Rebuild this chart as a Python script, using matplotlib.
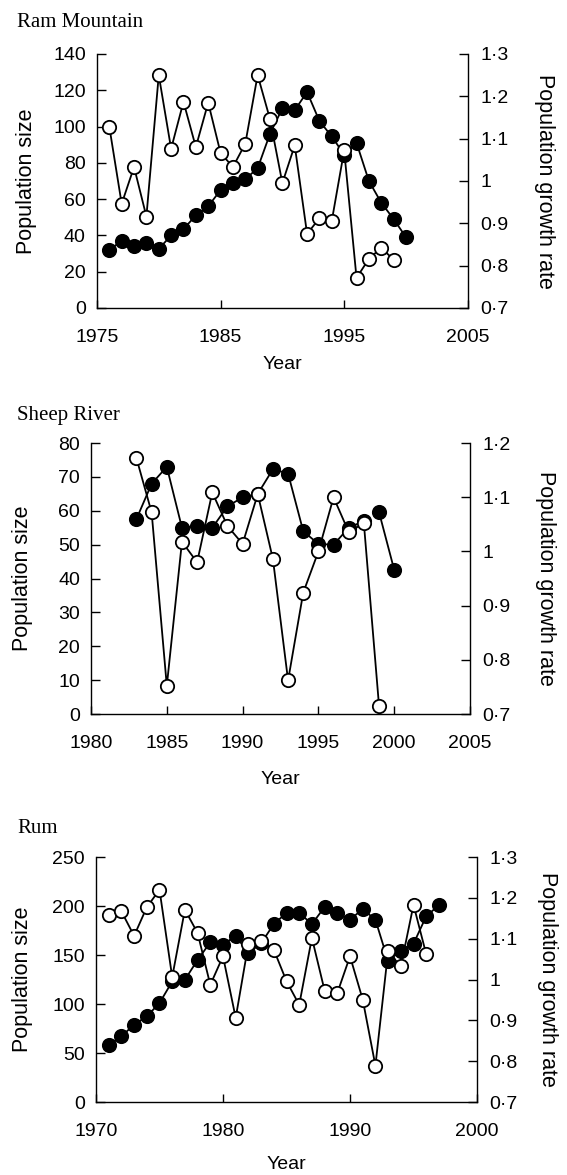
import numpy as np
import matplotlib
matplotlib.use("Agg")
import matplotlib.pyplot as plt
from matplotlib.ticker import FixedLocator, FuncFormatter

# Ram Mountain
ram_years = np.arange(1976, 2001)
ram_size = [32, 37, 34, 36, 32.5, 40, 43.5, 51, 56, 65, 69, 71, 77, 96, 110,
            109, 119, 103, 94.5, 84.5, 91, 70, 58, 49, 39]
ram_rate_years = np.arange(1976, 2000)
ram_rate = [1.128, 0.946, 1.033, 0.916, 1.250, 1.076, 1.187, 1.080, 1.185, 1.066,
            1.033, 1.088, 1.250, 1.146, 0.995, 1.084, 0.875, 0.912, 0.906, 1.072,
            0.771, 0.816, 0.842, 0.814]

# Sheep River (no line between 1998 and 1999 for the size series)
sheep_years = np.arange(1983, 2001)
sheep_size = [57.6, 68, 73, 55, 55.6, 55, 61.3, 64, 65, 72.3, 71, 54, 50.2, 50,
              55, 57, 59.6, 42.6]
sheep_size_break = 1998
sheep_rate_years = np.arange(1983, 2000)
sheep_rate = [1.172, 1.072, 0.752, 1.018, 0.980, 1.109, 1.047, 1.014, 1.106, 0.986,
              0.762, 0.924, 1.000, 1.100, 1.036, 1.052, 0.715]

# Rum
rum_years = np.arange(1971, 1998)
rum_size = [58.5, 67, 79, 87.4, 101, 123, 124.8, 145, 163, 160.5, 169.7, 152, 162,
            181.6, 193, 193, 181.6, 199, 193, 186, 197, 186, 144, 154.4, 161.6,
            189.5, 201]
rum_rate_years = np.arange(1971, 1997)
rum_rate = [1.159, 1.167, 1.107, 1.177, 1.220, 1.006, 1.171, 1.114, 0.987, 1.057,
            0.906, 1.087, 1.094, 1.073, 0.996, 0.938, 1.102, 0.973, 0.967, 1.057,
            0.951, 0.789, 1.069, 1.032, 1.183, 1.062]

plt.rcParams["font.family"] = ["Liberation Sans", "DejaVu Sans"]
plt.rcParams["axes.linewidth"] = 1.0


def rate_fmt(v, pos):
    return ("%g" % round(v, 1)).replace(".", "\u00b7")


def draw_series(ax, x, y, filled, break_after=None):
    x = np.asarray(x)
    y = np.asarray(y, dtype=float)
    if break_after is None:
        parts = [np.ones(len(x), bool)]
    else:
        parts = [x <= break_after, x > break_after]
    for m in parts:
        ax.plot(x[m], y[m], "-", color="black", lw=1.3, clip_on=False, zorder=2)
    ax.plot(x, y, "o", ms=9.6, mfc="black" if filled else "white",
            mec="black", mew=1.3, clip_on=False, zorder=3)


def panel(fig, rect, title, title_y, years, size, rate_years, rate,
          xticks, yticks, rticks, lab_x, rlab_x, year_y, break_after=None):
    ax = fig.add_axes(rect)
    ax2 = ax.twinx()
    draw_series(ax, years, size, True, break_after)
    draw_series(ax2, rate_years, rate, False)

    ax.set_xlim(xticks[0], xticks[-1])
    ax.set_ylim(yticks[0], yticks[-1])
    ax2.set_ylim(rticks[0], rticks[-1])
    ax.xaxis.set_major_locator(FixedLocator(xticks))
    ax.yaxis.set_major_locator(FixedLocator(yticks))
    ax2.yaxis.set_major_locator(FixedLocator(rticks))
    ax2.yaxis.set_major_formatter(FuncFormatter(rate_fmt))

    for s in ["top", "right"]:
        ax.spines[s].set_visible(False)
    for s in ["top", "left", "bottom"]:
        ax2.spines[s].set_visible(False)

    ax.tick_params(axis="x", direction="in", length=6, width=1, labelsize=14, pad=15)
    ax.tick_params(axis="y", direction="in", length=6.5, width=1, labelsize=14, pad=8)
    ax2.tick_params(axis="y", direction="in", length=6.5, width=1, labelsize=14, pad=9)

    ax.set_ylabel("Population size", fontsize=15.5, va="center")
    ax.yaxis.set_label_coords(lab_x, 0.5)
    ax2.set_ylabel("Population growth rate", fontsize=15.5, rotation=270, va="center")
    ax2.yaxis.set_label_coords(rlab_x, 0.5)
    ax.set_xlabel("Year", fontsize=14, va="center")
    ax.xaxis.set_label_coords(0.5, year_y)

    fig.text(17 / 567, title_y, title, family="Liberation Serif", fontsize=15,
             va="baseline", ha="left")
    return ax, ax2


fig = plt.figure(figsize=(5.67, 11.75), dpi=100)

panel(fig, [0.171, 0.7379, 0.654, 0.2162], "Ram Mountain", 0.977,
      ram_years, ram_size, ram_rate_years, ram_rate,
      [1975, 1985, 1995, 2005], [0, 20, 40, 60, 80, 100, 120, 140],
      [0.7, 0.8, 0.9, 1.0, 1.1, 1.2, 1.3], -0.189, 1.208, -0.224)

panel(fig, [0.1605, 0.3923, 0.6684, 0.2306], "Sheep River", 0.6426,
      sheep_years, sheep_size, sheep_rate_years, sheep_rate,
      [1980, 1985, 1990, 1995, 2000, 2005], [0, 10, 20, 30, 40, 50, 60, 70, 80],
      [0.7, 0.8, 0.9, 1.0, 1.1, 1.2], -0.182, 1.198, -0.24,
      break_after=sheep_size_break)

panel(fig, [0.1693, 0.0621, 0.672, 0.2085], "Rum", 0.291,
      rum_years, rum_size, rum_rate_years, rum_rate,
      [1970, 1980, 1990, 2000], [0, 50, 100, 150, 200, 250],
      [0.7, 0.8, 0.9, 1.0, 1.1, 1.2, 1.3], -0.194, 1.186, -0.257)

fig.savefig("out.png", dpi=100)
